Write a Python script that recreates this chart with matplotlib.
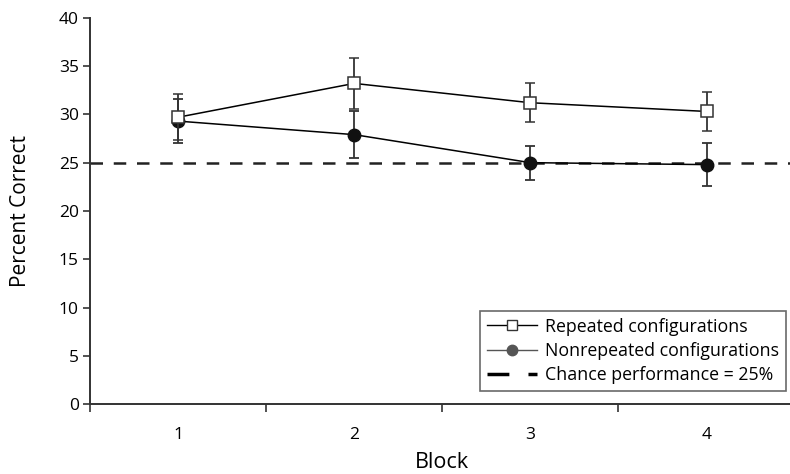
import matplotlib.pyplot as plt
import numpy as np
from matplotlib.lines import Line2D

plt.rcParams['font.family'] = ['Open Sans', 'DejaVu Sans']

blocks = [1, 2, 3, 4]
repeated = [29.7, 33.2, 31.2, 30.3]
repeated_err = [2.4, 2.6, 2.0, 2.0]
nonrepeated = [29.3, 27.9, 25.0, 24.8]
nonrepeated_err = [2.3, 2.4, 1.75, 2.25]
chance = 25

fig = plt.figure(figsize=(7.9, 4.74), dpi=100)
ax = fig.add_axes([0.1139, 0.147, 0.892, 0.8157])

ax.axhline(chance, color='#222222', lw=1.8, ls=(0, (5, 4.3)), zorder=1)

ax.errorbar(blocks, nonrepeated, yerr=nonrepeated_err, color='black', lw=1.1,
            marker='o', ms=9, mfc='#111111', mec='#111111',
            ecolor='#333333', elinewidth=1.3, capsize=3.4, capthick=1.3, zorder=3)
ax.errorbar(blocks, repeated, yerr=repeated_err, color='black', lw=1.1,
            marker='s', ms=8.3, mfc='white', mec='#333333', mew=1.1,
            ecolor='#333333', elinewidth=1.3, capsize=3.4, capthick=1.3, zorder=4)

ax.set_xlim(0.5, 4.5)
ax.set_ylim(0, 40)
ax.set_yticks(np.arange(0, 41, 5))
ax.set_xticks([0.5, 1.5, 2.5, 3.5, 4.5])
ax.set_xticklabels([])
ax.set_xticks(blocks, minor=True)
ax.set_xticklabels([str(b) for b in blocks], minor=True)
ax.tick_params(axis='x', which='minor', length=0, pad=16, labelsize=12.5)
ax.tick_params(axis='x', which='major', length=6, width=1.2, color='#333333')
ax.tick_params(axis='y', length=5, width=1.2, color='#333333', labelsize=12.5, pad=3)

for s in ['top', 'right']:
    ax.spines[s].set_visible(False)
for s in ['left', 'bottom']:
    ax.spines[s].set_linewidth(1.4)
    ax.spines[s].set_color('#333333')

ax.set_xlabel('Block', fontsize=15.5, labelpad=7)
ax.set_ylabel('Percent Correct', fontsize=15, labelpad=20)

handles = [
    Line2D([], [], color='black', lw=1, marker='s', ms=7, mfc='white', mec='#333333'),
    Line2D([], [], color='#555555', lw=1, marker='o', ms=7.5, mfc='#555555', mec='#555555'),
    Line2D([], [], color='black', lw=2.5, ls=(0, (6.3, 5.5))),
]
labels = ['Repeated configurations', 'Nonrepeated configurations',
          'Chance performance = 25%']
leg = ax.legend(handles, labels, loc='lower right', bbox_to_anchor=(0.988, 0.034),
                borderaxespad=0, fontsize=12.8, frameon=True, fancybox=False,
                edgecolor='#444444', handlelength=2.8, handletextpad=0.45,
                borderpad=0.4, labelspacing=0.35)
leg.get_frame().set_linewidth(1.2)

fig.savefig('out.png', dpi=100)
